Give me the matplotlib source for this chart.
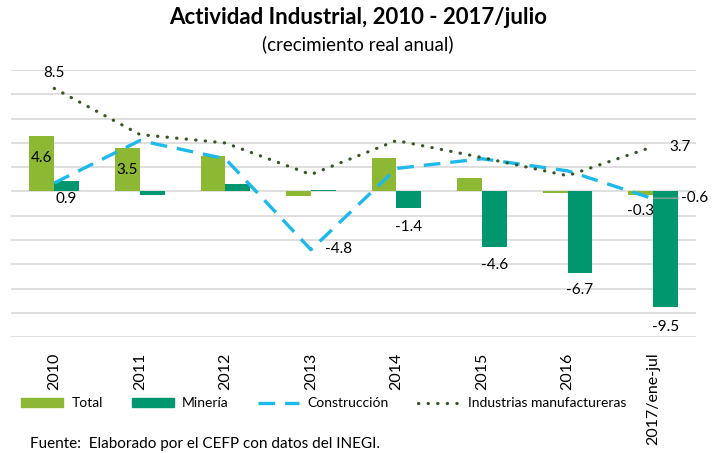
import numpy as np
import matplotlib.pyplot as plt
from matplotlib.patches import Patch
from matplotlib.lines import Line2D

plt.rcParams['font.family'] = ['Lato', 'DejaVu Sans']

# datos (crecimiento real anual, %)
years = ['2010', '2011', '2012', '2013', '2014', '2015', '2016', '2017/ene-jul']
total = [4.6, 3.6, 2.9, -0.4, 2.8, 1.1, -0.1, -0.3]
mineria = [0.9, -0.3, 0.6, 0.1, -1.4, -4.6, -6.7, -9.5]
construccion = [0.7, 4.2, 2.7, -4.8, 1.9, 2.7, 1.7, -0.6]
manufactura = [8.5, 4.7, 4.0, 1.4, 4.2, 2.8, 1.3, 3.7]

c_total = '#8DB833'
c_min = '#00976F'
c_cons = '#1DB9EA'
c_manu = '#375623'

dash_cons = (0, (5, 3))
dot_manu = (0, (0.1, 2.9))

fig = plt.figure(figsize=(7.16, 4.53), dpi=100)
ax = fig.add_axes([0.016, 0.256, 0.956, 0.589])

x = np.arange(len(years))
w = 0.29
ax.bar(x - w/2, total, w, color=c_total, zorder=2)
ax.bar(x + w/2, mineria, w, color=c_min, zorder=2)
ax.plot(x, construccion, color=c_cons, lw=2.4, linestyle=dash_cons, zorder=3)
ax.plot(x, manufactura, color=c_manu, lw=2.3, linestyle=dot_manu,
        dash_capstyle='round', zorder=3)

ax.set_xlim(-0.5, 7.5)
ax.set_ylim(-12, 10)
ax.set_yticks(np.arange(-12, 11, 2))
ax.yaxis.grid(True, color='#D9D9D9', lw=1.2, zorder=0)
ax.tick_params(axis='y', left=False, labelleft=False)
ax.set_xticks(x)
ax.set_xticklabels(years, rotation=90, va='top', fontsize=11.5)
ax.tick_params(axis='x', length=0, pad=11)
for s in ax.spines.values():
    s.set_visible(False)

# etiquetas de datos
fs = 11
ax.text(0, 9.75, '8.5', ha='center', va='center', fontsize=fs)
ax.text(-w/2, 2.8, '4.6', ha='center', va='center', fontsize=fs)
ax.text(1 - w/2, 1.8, '3.5', ha='center', va='center', fontsize=fs)
ax.text(w/2, -0.65, '0.9', ha='center', va='center', fontsize=fs)
ax.text(3.17, -4.75, '-4.8', ha='left', va='center', fontsize=fs)
ax.text(4 + w/2, -2.95, '-1.4', ha='center', va='center', fontsize=fs)
ax.text(5 + w/2, -6.05, '-4.6', ha='center', va='center', fontsize=fs)
ax.text(6 + w/2, -8.15, '-6.7', ha='center', va='center', fontsize=fs)
ax.text(7 + w/2, -11.15, '-9.5', ha='center', va='center', fontsize=fs)
ax.text(7 - w/2, -1.6, '-0.3', ha='center', va='center', fontsize=fs)
ax.text(7.19, 3.7, '3.7', ha='left', va='center', fontsize=fs, clip_on=False)
ax.annotate('-0.6', xy=(7.0, -0.55), xytext=(7.33, -0.55), ha='left', va='center',
            fontsize=fs, annotation_clip=False,
            arrowprops=dict(arrowstyle='-', color='#A6A6A6', lw=0.8,
                            shrinkA=0, shrinkB=0))

fig.text(0.5, 0.962, 'Actividad Industrial, 2010 - 2017/julio', ha='center',
         va='center', fontsize=16, fontweight='bold')
fig.text(0.5, 0.903, '(crecimiento real anual)', ha='center', va='center',
         fontsize=13.5)

handles = [Patch(color=c_total), Patch(color=c_min),
           Line2D([], [], color=c_cons, lw=2.4, linestyle=dash_cons),
           Line2D([], [], color=c_manu, lw=2.3, linestyle=dot_manu,
                  dash_capstyle='round')]
labels = ['Total', 'Minería', 'Construcción', 'Industrias manufactureras']
fig.legend(handles, labels, loc='center left', bbox_to_anchor=(0.022, 0.11),
           ncol=4, frameon=False, fontsize=10, handlelength=3.0,
           handleheight=0.6, handletextpad=0.6, columnspacing=2.1,
           borderaxespad=0)

fig.text(0.042, 0.02, 'Fuente:  Elaborado por el CEFP con datos del INEGI.',
         ha='left', va='center', fontsize=11)

fig.savefig('out.png', dpi=100)
